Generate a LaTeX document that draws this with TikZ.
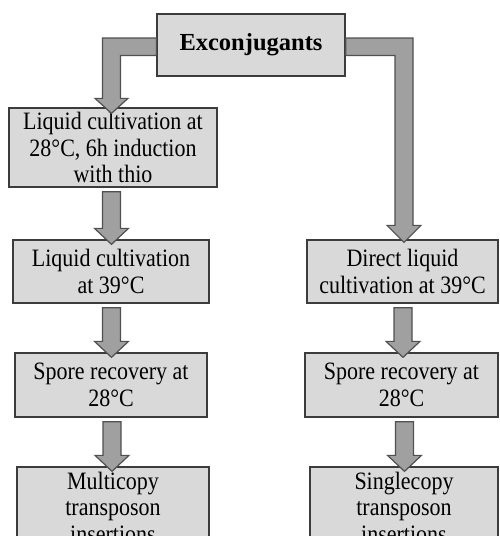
\documentclass[tikz,border=0pt]{standalone}
\usepackage{fontspec}
\setmainfont{Liberation Serif}
\newfontfamily\bodyfont[FakeStretch=0.88]{Liberation Serif}
\usetikzlibrary{calc}
\definecolor{boxfill}{HTML}{D9D9D9}
\definecolor{boxline}{HTML}{3C3C3C}
\definecolor{arrfill}{HTML}{A0A0A0}
\definecolor{arrline}{HTML}{505050}
\newcommand\downblock[3]{%
  \filldraw[barrow] let \p1=(#1.south), \p2=(#2.north) in
    (#3pt-9pt,\y1-4pt) -- (#3pt-9pt,\y2+11pt) -- (#3pt-17pt,\y2+11pt)
    -- (#3pt,\y2-5pt) -- (#3pt+17pt,\y2+11pt) -- (#3pt+9pt,\y2+11pt)
    -- (#3pt+9pt,\y1-4pt) -- cycle;}
\begin{document}
\begin{tikzpicture}[
  box/.style={draw=boxline, fill=boxfill, line width=1.3pt, rectangle,
    align=center, inner sep=0pt, font=\bodyfont\fontsize{25}{26.5}\selectfont},
  barrow/.style={draw=arrline, fill=arrfill, line width=1.2pt, line join=miter},
]
\useasboundingbox (0pt,0pt) rectangle (499pt,-536pt);
\clip (0pt,0pt) rectangle (499pt,-536pt);

\node[box, minimum width=188pt, minimum height=62pt] (ex) at (251pt,-45pt)
  {\rmfamily\bfseries\fontsize{24.5}{28}\selectfont Exconjugants};

\node[box, minimum width=208pt, minimum height=79pt] (l1) at (113pt,-147.5pt)
  {Liquid cultivation at\\28°C, 6h induction\\with thio};
\node[box, minimum width=196pt, minimum height=63pt] (l2) at (111pt,-271.5pt)
  {Liquid cultivation\\at 39°C};
\node[box, minimum width=192pt, minimum height=64pt] (l3) at (111pt,-385pt)
  {Spore recovery at\\28°C};
\node[box, minimum width=192pt, minimum height=80pt] (l4) at (113pt,-507pt)
  {Multicopy\\transposon\\insertions};

\node[box, minimum width=191pt, minimum height=63pt] (r2) at (402.5pt,-271.5pt)
  {Direct liquid\\cultivation at 39°C};
\node[box, minimum width=193pt, minimum height=64pt] (r3) at (401.5pt,-385pt)
  {Spore recovery at\\28°C};
\node[box, minimum width=188pt, minimum height=80pt] (r4) at (404pt,-507pt)
  {Singlecopy\\transposon\\insertions};

% elbow arrows from Exconjugants
\filldraw[barrow] let \p1=(ex.west), \p2=(l1.north) in
  (\x1,\y1+7pt) -- (102.5pt,\y1+7pt) -- (102.5pt,\y2+9pt) -- (95pt,\y2+9pt)
  -- (111.5pt,\y2-6pt) -- (128pt,\y2+9pt) -- (120.5pt,\y2+9pt)
  -- (120.5pt,\y1-10.5pt) -- (\x1,\y1-10.5pt) -- cycle;
\filldraw[barrow] let \p1=(ex.east), \p2=(r2.north) in
  (\x1,\y1+7pt) -- (413pt,\y1+7pt) -- (413pt,\y2+14pt) -- (421pt,\y2+14pt)
  -- (404pt,\y2-3pt) -- (387pt,\y2+14pt) -- (395pt,\y2+14pt)
  -- (395pt,\y1-10.5pt) -- (\x1,\y1-10.5pt) -- cycle;

\downblock{l1}{l2}{111.5}
\downblock{l2}{l3}{111.5}
\downblock{l3}{l4}{112}
\downblock{r2}{r3}{403}
\downblock{r3}{r4}{404.5}
\end{tikzpicture}
\end{document}
